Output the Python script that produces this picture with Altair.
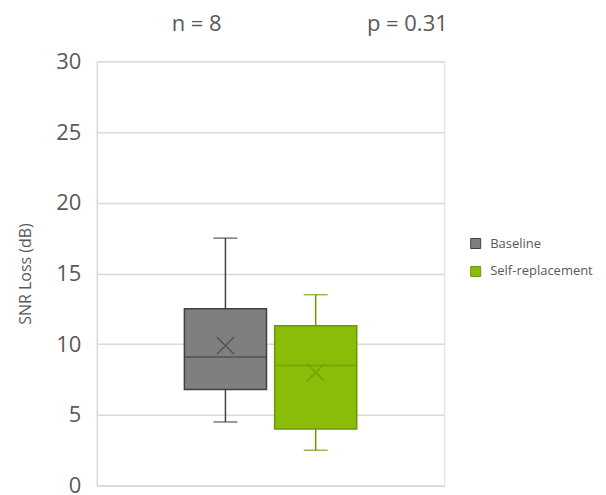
import altair as alt
import pandas as pd

groups = ["Baseline", "Self-replacement"]
mins = [4.5, 2.5]
q1s = [6.8, 4.0]
medians = [9.1, 8.5]
q3s = [12.5, 11.3]
maxs = [17.5, 13.5]
means = [9.9, 8.0]

fill_colors = ["#7f7f7f", "#8cbc0a"]
stroke_colors = ["#404040", "#6b9a00"]

n_label = "n = 8"
p_label = "p = 0.31"
y_ticks = [0, 5, 10, 15, 20, 25, 30]

df = pd.DataFrame({
    "group": groups, "min": mins, "q1": q1s, "median": medians,
    "q3": q3s, "max": maxs, "mean": means,
})

FONT = "Open Sans"
TXT = "#595959"

x_enc = alt.X("group:N", sort=groups,
              scale=alt.Scale(paddingInner=0.09, paddingOuter=0.97),
              axis=alt.Axis(title=None, labels=False, ticks=False, domain=True, grid=False))
y_scale = alt.Scale(domain=[0, 30], nice=False)
y_axis = alt.Axis(title="SNR Loss (dB)", values=y_ticks, ticks=False)

fill_scale = alt.Scale(domain=groups, range=fill_colors)
stroke_scale = alt.Scale(domain=groups, range=stroke_colors)
leg = alt.Legend(title=None)

def stroke_enc():
    return alt.Stroke("group:N", scale=stroke_scale, legend=leg)

base = alt.Chart(df)

whisk_hi = base.mark_rule(strokeWidth=1.5).encode(
    x=x_enc, y=alt.Y("q3:Q", scale=y_scale, axis=y_axis), y2="max:Q",
    stroke=stroke_enc())
whisk_lo = base.mark_rule(strokeWidth=1.5).encode(
    x=x_enc, y=alt.Y("min:Q", scale=y_scale, axis=y_axis), y2="q1:Q",
    stroke=stroke_enc())
cap_hi = base.mark_tick(size=24, thickness=1.5).encode(
    x=x_enc, y=alt.Y("max:Q", scale=y_scale, axis=y_axis),
    color=alt.Color("group:N", scale=stroke_scale, legend=None))
cap_lo = base.mark_tick(size=24, thickness=1.5).encode(
    x=x_enc, y=alt.Y("min:Q", scale=y_scale, axis=y_axis),
    color=alt.Color("group:N", scale=stroke_scale, legend=None))
box = base.mark_bar(strokeWidth=1.5).encode(
    x=x_enc, y=alt.Y("q1:Q", scale=y_scale, axis=y_axis), y2="q3:Q",
    fill=alt.Fill("group:N", scale=fill_scale, legend=leg),
    stroke=stroke_enc())
med = base.mark_tick(size=82, thickness=1.5).encode(
    x=x_enc, y=alt.Y("median:Q", scale=y_scale, axis=y_axis),
    color=alt.Color("group:N", scale=stroke_scale, legend=None))
mean_pt = base.mark_point(shape="M-1,-1L1,1M1,-1L-1,1", size=300, strokeWidth=1.5,
                          filled=False).encode(
    x=x_enc, y=alt.Y("mean:Q", scale=y_scale, axis=y_axis),
    color=alt.Color("group:N", scale=stroke_scale, legend=None))

n_text = alt.Chart(pd.DataFrame({"t": [n_label]})).mark_text(
    font=FONT, fontSize=22, color=TXT, baseline="middle", align="center"
).encode(text="t:N", x=alt.value(100), y=alt.value(-37))
p_text = alt.Chart(pd.DataFrame({"t": [p_label]})).mark_text(
    font=FONT, fontSize=22, color=TXT, baseline="middle", align="center"
).encode(text="t:N", x=alt.value(311), y=alt.value(-37))

chart = alt.layer(whisk_hi, whisk_lo, cap_hi, cap_lo, box, med, mean_pt, n_text, p_text).properties(
    width=348, height=425,
    padding={"left": 9, "top": 5, "right": 5, "bottom": 5},
).resolve_scale(color="independent").configure_view(stroke=None).configure(
    background="white"
).configure_axis(
    domainColor="#d9d9d9", domainWidth=1.5, gridColor="#d9d9d9", gridWidth=1.5,
    labelFont=FONT, labelColor=TXT, titleFont=FONT, titleColor=TXT,
).configure_axisY(
    labelFontSize=22, labelPadding=16, titleFontSize=16, titleFontWeight="normal",
    titlePadding=22,
).configure_legend(
    orient="none", legendX=373, legendY=176, symbolType="square", symbolSize=100,
    symbolStrokeWidth=1, labelFont=FONT, labelFontSize=13, labelColor=TXT,
    labelOffset=8, rowPadding=13, padding=0,
)

chart.save("out.html", embed_options={"renderer": "svg", "actions": False})
